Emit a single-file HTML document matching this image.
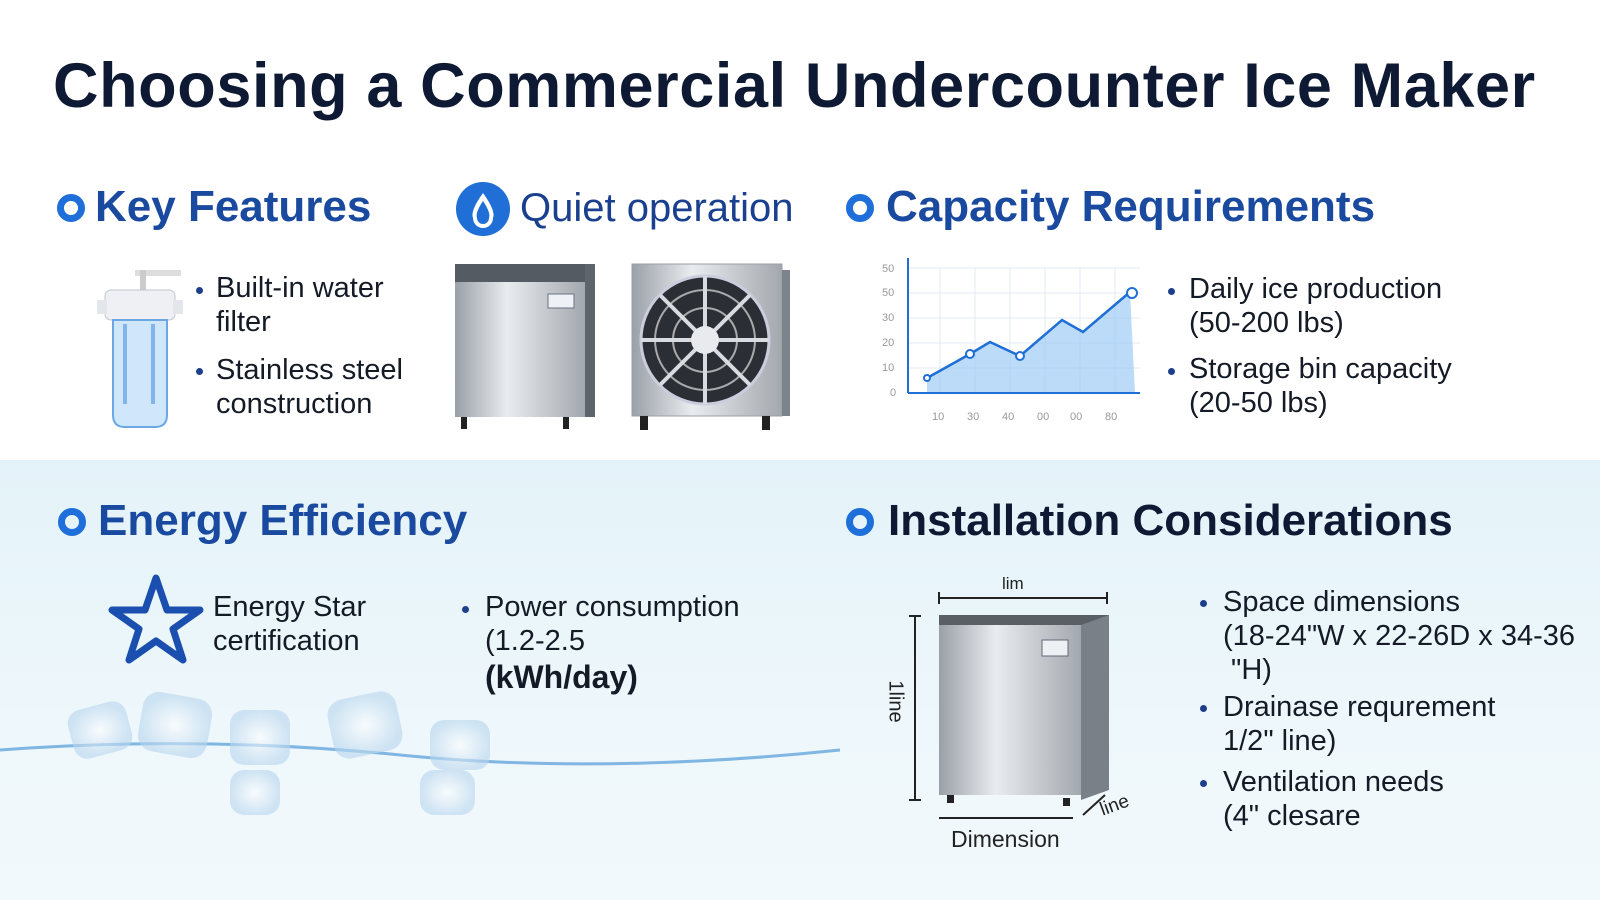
<!DOCTYPE html>
<html><head><meta charset="utf-8"><style>
*{margin:0;padding:0;box-sizing:border-box}
body{width:1600px;height:900px;overflow:hidden;font-family:"Liberation Sans","DejaVu Sans",sans-serif;background:#fff;position:relative;color:#121a2c}
.abs{position:absolute}
.title{left:53px;top:50px;font-size:63px;font-weight:bold;color:#0e1a33;letter-spacing:0.6px;white-space:nowrap}
.h{font-size:44px;font-weight:bold;color:#1a4aa0;white-space:nowrap}
.h2{color:#0e1a33}
.dot{width:28px;height:28px;border:7px solid #1e6fd9;border-radius:50%}
.t{font-size:29px;line-height:34px;white-space:nowrap;color:#141a26}
.bul{position:absolute;width:7px;height:7px;border-radius:50%;background:#1d3f8a}
.bottom{left:0;top:460px;width:1600px;height:440px;background:linear-gradient(180deg,#e4f3f9 0%,#eef7fb 60%,#f2f9fc 100%)}
</style></head><body>
<div class="abs bottom"></div>
<div class="abs title">Choosing a Commercial Undercounter Ice Maker</div>

<div class="abs dot" style="left:57px;top:194px"></div>
<div class="abs h" style="left:95px;top:182px">Key Features</div>
<svg class="abs" style="left:95px;top:268px" width="90" height="165">
<rect x="40" y="2" width="46" height="6" fill="#ddd"/><rect x="45" y="2" width="6" height="22" fill="#ccc"/>
<rect x="10" y="22" width="70" height="30" rx="6" fill="#eef0f3" stroke="#bfc6d0"/>
<rect x="2" y="32" width="10" height="14" fill="#e3e6ea"/><rect x="78" y="32" width="10" height="14" fill="#e3e6ea"/>
<path d="M18 52 h54 v95 q0 12 -12 12 h-30 q-12 0 -12 -12z" fill="#cfe6fb" stroke="#6aa7e4" stroke-width="2"/>
<rect x="28" y="56" width="4" height="80" fill="#4f93df" opacity=".6"/><rect x="56" y="56" width="4" height="80" fill="#4f93df" opacity=".6"/>
</svg>
<div class="bul" style="left:196px;top:287px"></div>
<div class="abs t" style="left:216px;top:271px">Built-in water<br>filter</div>
<div class="bul" style="left:196px;top:368px"></div>
<div class="abs t" style="left:216px;top:353px">Stainless steel<br>construction</div>

<svg class="abs" style="left:455px;top:181px" width="56" height="56"><circle cx="28" cy="28" r="27" fill="#1f6fd6"/><path d="M28 12 q-13 18 -10 25 a10 10 0 0 0 20 0 q3 -7 -10 -25z" fill="#fff"/><path d="M28 20 q-8 12 -6 17 a6 6 0 0 0 12 0 q2-5 -6-17z" fill="#1f6fd6"/></svg>
<div class="abs h" style="left:520px;top:186px;font-size:40px;font-weight:normal;color:#1a3f8f">Quiet operation</div>
<svg class="abs" style="left:453px;top:262px" width="150" height="170">
<defs><linearGradient id="st" x1="0" x2="1"><stop offset="0" stop-color="#9aa0a8"/><stop offset=".4" stop-color="#e9ecef"/><stop offset="1" stop-color="#a3a8ae"/></linearGradient></defs>
<rect x="2" y="2" width="130" height="18" fill="#555b63"/><rect x="2" y="20" width="130" height="135" fill="url(#st)"/>
<rect x="132" y="2" width="10" height="153" fill="#5e646c"/>
<rect x="95" y="32" width="26" height="14" fill="#eef2f6" stroke="#6b7380"/>
<rect x="8" y="155" width="6" height="12" fill="#222"/><rect x="110" y="155" width="6" height="12" fill="#222"/>
</svg>
<svg class="abs" style="left:630px;top:262px" width="165" height="170">
<rect x="2" y="2" width="150" height="152" fill="url(#st)" stroke="#9aa0a7"/><rect x="152" y="8" width="8" height="146" fill="#7d838b"/>
<circle cx="75" cy="78" r="64" fill="#2b2f35" stroke="#ccd" stroke-width="3"/>
<circle cx="75" cy="78" r="50" fill="none" stroke="#aaa" stroke-width="2"/><circle cx="75" cy="78" r="32" fill="none" stroke="#aaa" stroke-width="2"/>
<g stroke="#d8dbe0" stroke-width="4"><line x1="75" y1="14" x2="75" y2="142"/><line x1="11" y1="78" x2="139" y2="78"/><line x1="30" y1="33" x2="120" y2="123"/><line x1="120" y1="33" x2="30" y2="123"/></g>
<circle cx="75" cy="78" r="14" fill="#e8eaee"/>
<rect x="10" y="154" width="8" height="14" fill="#222"/><rect x="132" y="154" width="8" height="14" fill="#222"/>
</svg>

<div class="abs dot" style="left:846px;top:194px"></div>
<div class="abs h" style="left:886px;top:182px">Capacity Requirements</div>
<svg class="abs" style="left:870px;top:258px" width="280" height="170">
<g stroke="#e3eaf2" stroke-width="1"><line x1="38" y1="10" x2="270" y2="10"/><line x1="38" y1="35" x2="270" y2="35"/><line x1="38" y1="60" x2="270" y2="60"/><line x1="38" y1="85" x2="270" y2="85"/><line x1="38" y1="110" x2="270" y2="110"/><line x1="70" y1="10" x2="70" y2="135"/><line x1="105" y1="10" x2="105" y2="135"/><line x1="140" y1="10" x2="140" y2="135"/><line x1="175" y1="10" x2="175" y2="135"/><line x1="210" y1="10" x2="210" y2="135"/><line x1="245" y1="10" x2="245" y2="135"/></g>
<path d="M57 120 L100 96 L120 84 L150 98 L192 62 L213 74 L260 34 L265 135 L57 135Z" fill="#8fc3f4" opacity=".6"/>
<polyline points="57,120 100,96 120,84 150,98 192,62 213,74 260,34" fill="none" stroke="#1f6fd6" stroke-width="2.5"/>
<g fill="#fff" stroke="#1f6fd6" stroke-width="2"><circle cx="100" cy="96" r="4"/><circle cx="150" cy="98" r="4"/><circle cx="262" cy="35" r="5"/><circle cx="57" cy="120" r="3"/></g>
<line x1="38" y1="135" x2="270" y2="135" stroke="#1f6fd6" stroke-width="2"/><line x1="38" y1="135" x2="38" y2="0" stroke="#1f6fd6" stroke-width="2"/>
<g font-size="11" fill="#999" font-family="Liberation Sans"><text x="12" y="14">50</text><text x="12" y="38">50</text><text x="12" y="63">30</text><text x="12" y="88">20</text><text x="12" y="113">10</text><text x="20" y="138">0</text>
<text x="62" y="162">10</text><text x="97" y="162">30</text><text x="132" y="162">40</text><text x="167" y="162">00</text><text x="200" y="162">00</text><text x="235" y="162">80</text></g>
</svg>
<div class="bul" style="left:1168px;top:288px"></div>
<div class="abs t" style="left:1189px;top:272px">Daily ice production<br>(50-200 lbs)</div>
<div class="bul" style="left:1168px;top:368px"></div>
<div class="abs t" style="left:1189px;top:352px">Storage bin capacity<br>(20-50 lbs)</div>

<div class="abs dot" style="left:58px;top:508px"></div>
<div class="abs h" style="left:98px;top:496px">Energy Efficiency</div>
<svg class="abs" style="left:108px;top:572px" width="96" height="92"><polygon points="48,6 59,38 92,38 65,57 75,88 48,69 21,88 31,57 4,38 37,38" fill="none" stroke="#1a4fb0" stroke-width="7" stroke-linejoin="round"/></svg>
<div class="abs t" style="left:213px;top:590px">Energy Star<br>certification</div>
<div class="bul" style="left:462px;top:606px"></div>
<div class="abs t" style="left:485px;top:590px">Power consumption<br>(1.2-2.5</div>
<div class="abs t" style="left:485px;top:660px;font-weight:bold;font-size:32px">(kWh/day)</div>
<svg class="abs" style="left:0;top:680px" width="840" height="180">
<defs><radialGradient id="ic"><stop offset="0" stop-color="#fff"/><stop offset="1" stop-color="#b8d6ee"/></radialGradient></defs>
<path d="M0 70 Q200 55 400 75 T840 70" stroke="#7fb6e2" stroke-width="3" fill="none"/>
<g fill="url(#ic)" opacity=".6"><rect x="70" y="25" width="60" height="50" rx="14" transform="rotate(-15 100 50)"/><rect x="140" y="15" width="70" height="60" rx="16" transform="rotate(10 175 45)"/><rect x="230" y="30" width="60" height="55" rx="14"/><rect x="330" y="15" width="70" height="60" rx="16" transform="rotate(-12 365 45)"/><rect x="430" y="40" width="60" height="50" rx="14"/><rect x="230" y="90" width="50" height="45" rx="14"/><rect x="420" y="90" width="55" height="45" rx="14"/></g>
</svg>

<div class="abs dot" style="left:846px;top:508px"></div>
<div class="abs h h2" style="left:888px;top:496px">Installation Considerations</div>
<div class="abs" style="left:1002px;top:574px;font-size:17px;color:#222">lim</div>
<svg class="abs" style="left:905px;top:590px" width="250" height="240">
<line x1="34" y1="8" x2="202" y2="8" stroke="#222" stroke-width="2"/><line x1="34" y1="2" x2="34" y2="14" stroke="#222" stroke-width="2"/><line x1="202" y1="2" x2="202" y2="14" stroke="#222" stroke-width="2"/>
<line x1="10" y1="26" x2="10" y2="210" stroke="#222" stroke-width="2"/><line x1="4" y1="26" x2="16" y2="26" stroke="#222" stroke-width="2"/><line x1="4" y1="210" x2="16" y2="210" stroke="#222" stroke-width="2"/>
<rect x="34" y="25" width="170" height="10" fill="#5a5f66"/>
<rect x="34" y="35" width="142" height="170" fill="url(#st)"/>
<polygon points="176,35 204,25 204,200 176,210" fill="#7a8088"/>
<rect x="137" y="50" width="26" height="16" fill="#eef1f4" stroke="#667"/>
<rect x="42" y="205" width="7" height="8" fill="#222"/><rect x="158" y="208" width="7" height="8" fill="#222"/>
<line x1="34" y1="228" x2="168" y2="228" stroke="#222" stroke-width="2"/>
<line x1="178" y1="225" x2="200" y2="205" stroke="#222" stroke-width="2"/>
</svg>
<div class="abs" style="left:874px;top:690px;font-size:20px;transform:rotate(90deg);color:#222">1line</div>
<div class="abs" style="left:1100px;top:795px;font-size:19px;transform:rotate(-20deg);color:#222">line</div>
<div class="abs" style="left:951px;top:826px;font-size:23px;color:#222">Dimension</div>
<div class="bul" style="left:1200px;top:600px"></div>
<div class="abs t" style="left:1223px;top:585px">Space dimensions<br>(18-24"W x 22-26D x 34-36<br>&nbsp;"H)</div>
<div class="bul" style="left:1200px;top:705px"></div>
<div class="abs t" style="left:1223px;top:690px">Drainase requrement<br>1/2" line)</div>
<div class="bul" style="left:1200px;top:780px"></div>
<div class="abs t" style="left:1223px;top:765px">Ventilation needs<br>(4" clesare</div>
</body></html>
